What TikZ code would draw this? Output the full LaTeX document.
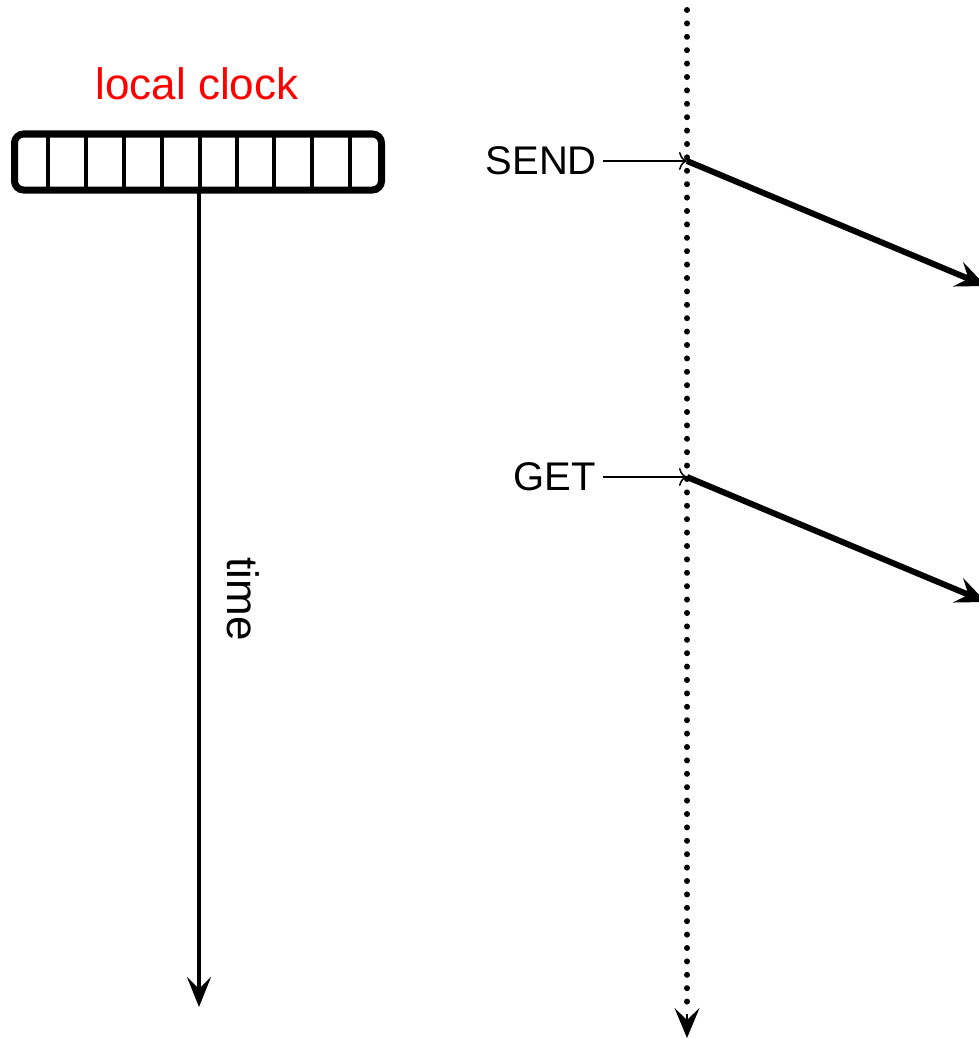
\documentclass[tikz,border=0pt]{standalone}
\usepackage{fontspec}
\setmainfont{Liberation Sans}
\usetikzlibrary{arrows.meta}
\begin{document}
\begin{tikzpicture}[x=1pt,y=-1pt,
  lbl/.style={font=\fontsize{40}{46}\selectfont, inner sep=0pt},
  biglbl/.style={font=\fontsize{44}{50}\selectfont, inner sep=0pt},
  thick arrow/.style={line width=6pt, -{Stealth[length=30pt,width=26pt,inset=11pt]}},
  pointer/.style={line width=1.5pt, -{To[length=8pt,width=18pt]}},
  dotline/.style={line width=6pt, line cap=round, dash pattern=on 0pt off 13.4pt}]
\useasboundingbox (0,0) rectangle (979,1038);
% clock
\node[draw, line width=7pt, rounded corners=9pt, minimum width=367pt, minimum height=56pt, inner sep=0pt] (clock) at (198,162) {};
\foreach \x in {48,86,124,162,200,237,274,312,350}
  \draw[line width=3.5pt] (\x,134) -- (\x,190);
\node[biglbl, text=red, anchor=base] (lc) at (197,100) {local clock};
% time axis
\coordinate (tend) at (199,1007);
\draw[line width=4pt, -{Stealth[length=30pt,width=24pt,inset=12pt]}] (199,190) -- (tend);
\node[biglbl, rotate=-90] (time) at (243,599) {time};
% dotted process line
\coordinate (ptop) at (687,10);
\coordinate (pbot) at (687,1038);
\coordinate (pmid) at (687,1008);
\draw[dotline] (ptop) -- (pmid);
\draw[line width=2pt, -{Stealth[length=30pt,width=25pt,inset=12pt]}] (687,1014) -- (pbot);
% SEND
\coordinate (s1) at (687,161);
\coordinate (s2) at (986,286);
\node[lbl, anchor=east] (send) at (597,161) {SEND};
\draw[pointer] (send.east) ++(6,0) -- (s1);
\draw[thick arrow] (s1) -- (s2);
% GET
\coordinate (g1) at (687,477);
\coordinate (g2) at (986,602);
\node[lbl, anchor=east] (get) at (596,477) {GET};
\draw[pointer] (get.east) ++(7,0) -- (g1);
\draw[thick arrow] (g1) -- (g2);
\end{tikzpicture}
\end{document}
